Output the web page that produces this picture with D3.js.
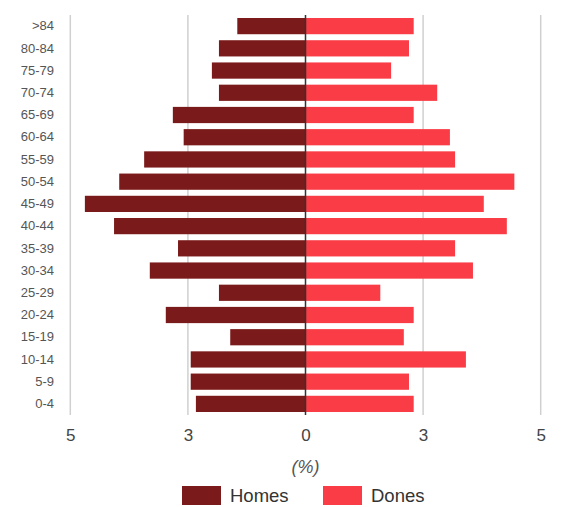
<!DOCTYPE html>
<html><head><meta charset="utf-8">
<script src="https://cdn.jsdelivr.net/npm/d3@7"></script>
<style>body{margin:0;background:#fff;}svg{display:block;font-family:Arial,"Liberation Sans",sans-serif;}</style>
</head><body>
<svg id="c" width="580" height="507"></svg>
<script>
const categories = [">84","80-84","75-79","70-74","65-69","60-64","55-59","50-54","45-49","40-44","35-39","30-34","25-29","20-24","15-19","10-14","5-9","0-4"];
const homes = [1.45,1.84,1.99,1.84,2.82,2.59,3.43,3.96,4.69,4.07,2.71,3.31,1.84,2.97,1.60,2.44,2.44,2.33];
const dones = [2.30,2.20,1.82,2.80,2.30,3.07,3.18,4.44,3.79,4.28,3.18,3.56,1.59,2.30,2.09,3.41,2.20,2.30];
const tickValues = [-5,-2.5,0,2.5,5];
const seriesNames = ["Homes","Dones"];
const colors = ["#7b1a1a","#fa3c46"];

const svg = d3.select("#c");
const x = d3.scaleLinear().domain([-5,5]).range([70.3,540.7]);
const y = d3.scaleBand().domain(categories).range([15,415]).paddingInner(0.27).paddingOuter(0.135);

// grid
svg.append("g").selectAll("line").data(tickValues.filter(d=>d!==0)).join("line")
  .attr("x1",d=>x(d)).attr("x2",d=>x(d)).attr("y1",15).attr("y2",415)
  .attr("stroke","#d0d0d0").attr("stroke-width",1.5);

// bars
svg.append("g").selectAll("rect").data(categories).join("rect")
  .attr("x",(d,i)=>x(-homes[i])).attr("width",(d,i)=>x(0)-x(-homes[i]))
  .attr("y",d=>y(d)).attr("height",y.bandwidth()).attr("fill",colors[0]);
svg.append("g").selectAll("rect").data(categories).join("rect")
  .attr("x",x(0)).attr("width",(d,i)=>x(dones[i])-x(0))
  .attr("y",d=>y(d)).attr("height",y.bandwidth()).attr("fill",colors[1]);

// zero line
svg.append("line").attr("x1",x(0)).attr("x2",x(0)).attr("y1",15).attr("y2",415)
  .attr("stroke","#333").attr("stroke-width",1.5);

// y axis labels
const ya = svg.append("g").attr("transform","translate(54,0)")
  .call(d3.axisLeft(y).tickSize(0).tickPadding(0));
ya.select(".domain").remove();
ya.selectAll("text").attr("font-size",13).attr("fill","#555").attr("font-family","Arial,'Liberation Sans',sans-serif");

// x axis labels
const xa = svg.append("g").attr("transform","translate(0,415)")
  .call(d3.axisBottom(x).tickValues(tickValues).tickSize(0).tickPadding(14).tickFormat(d=>Math.abs(d).toFixed(0)));
xa.select(".domain").remove();
xa.selectAll("text").attr("font-size",17).attr("fill","#444").attr("font-family","Arial,'Liberation Sans',sans-serif");

// axis title
svg.append("text").attr("x",x(0)).attr("y",473).attr("text-anchor","middle")
  .attr("font-size",18).attr("font-style","italic").attr("fill","#555").text("(%)");

// legend
const legX = [182,323];
const lg = svg.append("g").selectAll("g").data(seriesNames).join("g")
  .attr("transform",(d,i)=>`translate(${legX[i]},486)`);
lg.append("rect").attr("width",39).attr("height",19).attr("fill",(d,i)=>colors[i]);
lg.append("text").attr("x",48).attr("y",16).attr("font-size",18.5).attr("fill","#333").text(d=>d);
</script>
</body></html>
